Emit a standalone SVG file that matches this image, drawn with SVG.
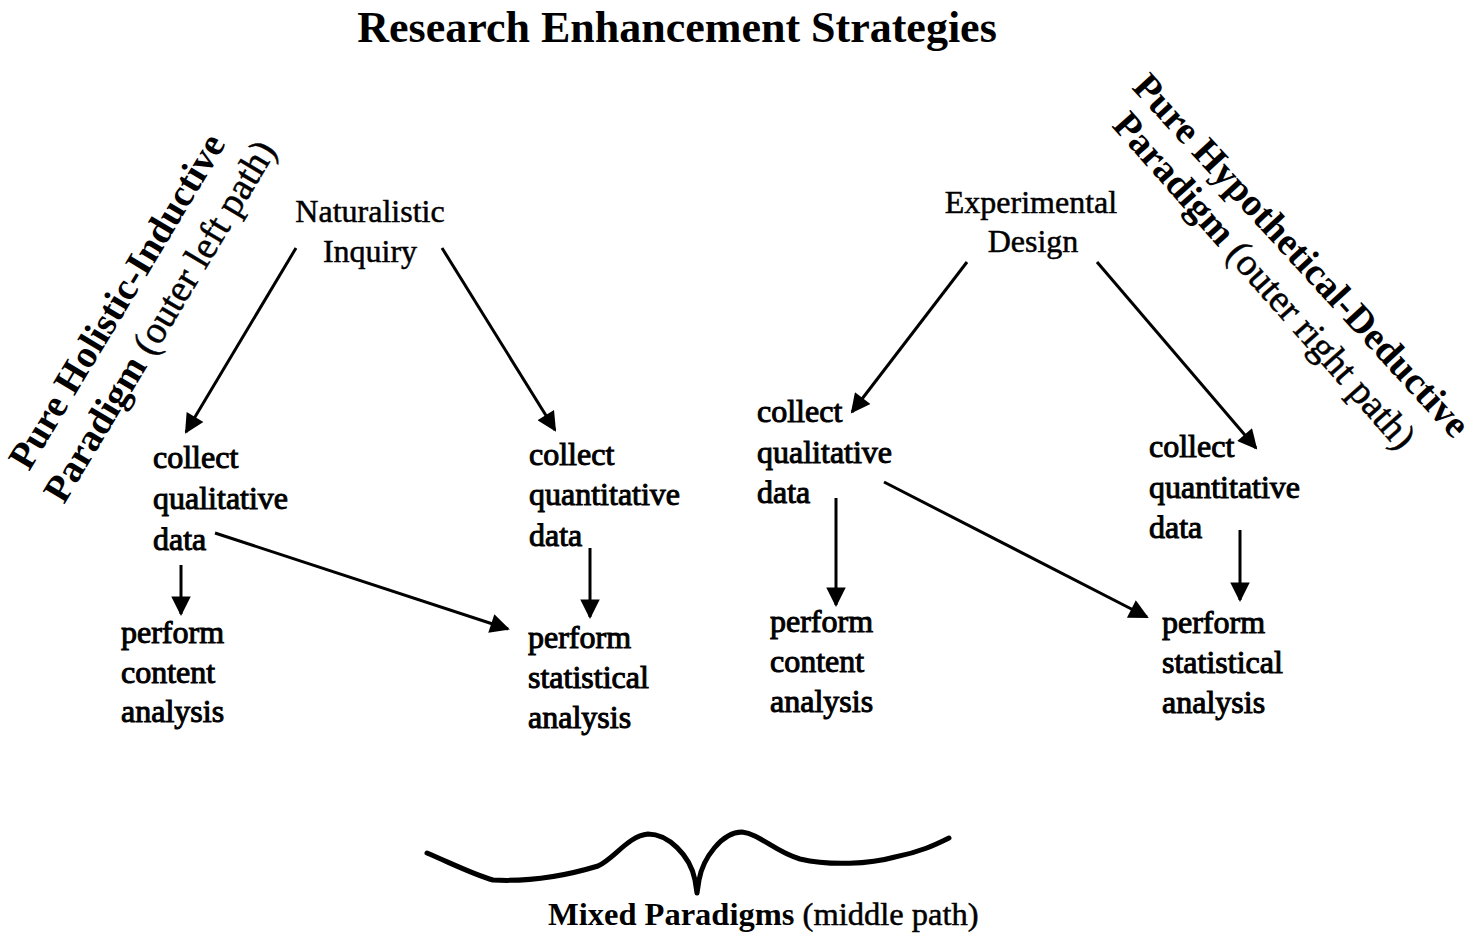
<svg xmlns="http://www.w3.org/2000/svg" width="1478" height="937" viewBox="0 0 1478 937">
<style>
text{font-family:"Liberation Serif","Times New Roman",serif;fill:#000}
.title{font-size:44px;font-weight:bold}
.node{font-size:32px;stroke:#000;stroke-width:0.5}
.step{font-size:32px;stroke:#000;stroke-width:1}
.para{font-size:38.5px;font-weight:bold}
.para tspan.r{font-weight:normal;stroke:#000;stroke-width:0.5}
.mixed{font-size:32.5px;font-weight:bold}
.mixed tspan.r{font-weight:normal;stroke:#000;stroke-width:0.5}
.conn line{stroke:#000;stroke-width:3;fill:none;marker-end:url(#ah)}
</style>
<defs>
<marker id="ah" viewBox="0 0 10 10" refX="9" refY="5" markerWidth="7.5" markerHeight="6.5" orient="auto" markerUnits="strokeWidth">
<path d="M0,0 L10,5 L0,10 Z" fill="#000"/>
</marker>
</defs>
<rect width="1478" height="937" fill="#fff"/>
<text class="title" x="677" y="42" text-anchor="middle">Research Enhancement Strategies</text>

<g id="paradigm-left">
<text class="para" transform="translate(29,472) rotate(-59)">Pure Holistic-Inductive</text>
<text class="para" transform="translate(64,505) rotate(-59)">Paradigm <tspan class="r">(outer left path)</tspan></text>
</g>
<g id="paradigm-right">
<text class="para" transform="translate(1131,88) rotate(47.5)">Pure Hypothetical-Deductive</text>
<text class="para" transform="translate(1111,126) rotate(48.5)">Paradigm <tspan class="r">(outer right path)</tspan></text>
</g>

<g id="naturalistic">
<text class="node" x="370" y="222" text-anchor="middle">Naturalistic</text>
<text class="node" x="370" y="262" text-anchor="middle">Inquiry</text>
</g>
<g id="experimental">
<text class="node" x="1031" y="213" text-anchor="middle">Experimental</text>
<text class="node" x="1033" y="252" text-anchor="middle">Design</text>
</g>

<g id="left-collect-qual">
<text class="step" x="153" y="468">collect</text>
<text class="step" x="153" y="509">qualitative</text>
<text class="step" x="153" y="550">data</text>
</g>
<g id="left-content">
<text class="step" x="121" y="643">perform</text>
<text class="step" x="121" y="683">content</text>
<text class="step" x="121" y="722">analysis</text>
</g>
<g id="left-collect-quant">
<text class="step" x="529" y="465">collect</text>
<text class="step" x="529" y="505">quantitative</text>
<text class="step" x="529" y="546">data</text>
</g>
<g id="left-statistical">
<text class="step" x="528" y="648">perform</text>
<text class="step" x="528" y="688">statistical</text>
<text class="step" x="528" y="728">analysis</text>
</g>
<g id="right-collect-qual">
<text class="step" x="757" y="422">collect</text>
<text class="step" x="757" y="463">qualitative</text>
<text class="step" x="757" y="503">data</text>
</g>
<g id="right-content">
<text class="step" x="770" y="632">perform</text>
<text class="step" x="770" y="672">content</text>
<text class="step" x="770" y="712">analysis</text>
</g>
<g id="right-collect-quant">
<text class="step" x="1149" y="457">collect</text>
<text class="step" x="1149" y="498">quantitative</text>
<text class="step" x="1149" y="538">data</text>
</g>
<g id="right-statistical">
<text class="step" x="1162" y="633">perform</text>
<text class="step" x="1162" y="673">statistical</text>
<text class="step" x="1162" y="713">analysis</text>
</g>

<g id="connectors" class="conn">
<line x1="296" y1="248" x2="186" y2="432"/>
<line x1="442" y1="248" x2="555" y2="430"/>
<line x1="967" y1="262" x2="852" y2="412"/>
<line x1="1097" y1="262" x2="1256" y2="448"/>
<line x1="181" y1="565" x2="181" y2="614"/>
<line x1="215" y1="533" x2="508" y2="629"/>
<line x1="590" y1="548" x2="590" y2="617"/>
<line x1="836" y1="498" x2="836" y2="605"/>
<line x1="884" y1="482" x2="1147" y2="617"/>
<line x1="1240" y1="530" x2="1240" y2="600"/>
</g>

<g id="mixed">
<path d="M427,853 C455,865 475,875 493,880 C530,882 565,876 598,866 C615,858 628,836 648,834 C668,834 690,855 695,880 L697,893 L699,880 C703,858 722,832 742,832 C760,834 775,852 800,859 C830,866 870,864 895,857 C920,852 935,845 949,838" fill="none" stroke="#000" stroke-width="5" stroke-linecap="round" stroke-linejoin="round"/>
<text class="mixed" x="548" y="925">Mixed Paradigms <tspan class="r">(middle path)</tspan></text>
</g>
</svg>
